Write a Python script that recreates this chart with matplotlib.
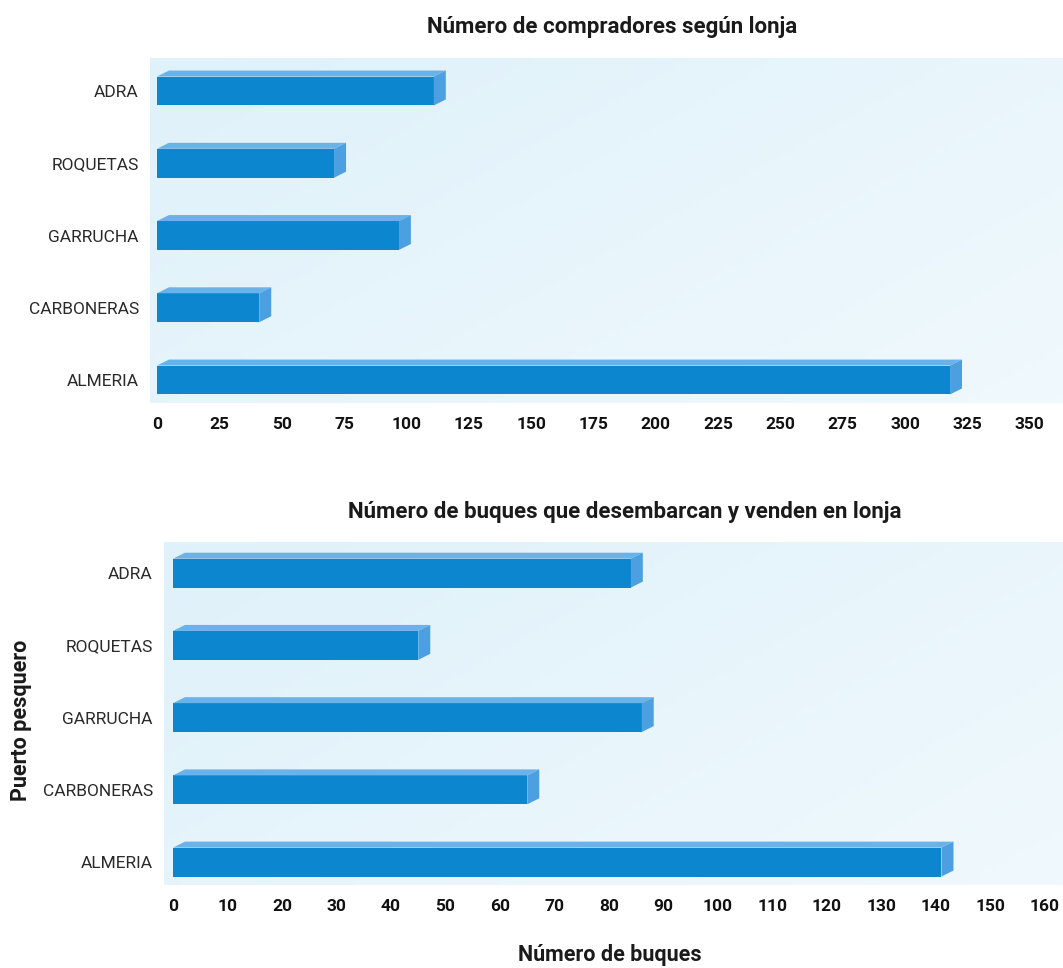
import numpy as np
import matplotlib.pyplot as plt
from matplotlib.patches import Polygon
from matplotlib.colors import LinearSegmentedColormap

lonjas = ['ALMERIA', 'CARBONERAS', 'GARRUCHA', 'ROQUETAS', 'ADRA']
compradores = [318, 41, 97, 71, 111]
buques = [141, 65, 86, 45, 84]
ticks_compradores = list(range(0, 351, 25))
ticks_buques = list(range(0, 161, 10))

plt.rcParams['font.family'] = ['Roboto', 'Liberation Sans', 'DejaVu Sans']

front = '#0b86cf'
top_c = '#6ab3ea'
side_c = '#4c9fe0'

fig = plt.figure(figsize=(10.63, 9.68), dpi=100)


def bar3d(ax, values, xlim, ylim, ticks):
    # fondo azul claro con degradado
    grad = np.linspace(0, 1, 256).reshape(1, -1)
    grad = np.vstack([grad * 0.6 + r * 0.4 for r in np.linspace(0, 1, 64)])
    cmap = LinearSegmentedColormap.from_list('bg', ['#dff1fa', '#f0f9fd'])
    ax.imshow(grad, extent=[0, 1, 0, 1], transform=ax.transAxes, cmap=cmap,
              aspect='auto', zorder=0)
    ax.set_xlim(*xlim)
    ax.set_ylim(*ylim)
    y = np.arange(len(values))
    h = 0.40
    ax.barh(y, values, height=h, color=front, zorder=3)
    bbox = ax.get_window_extent()
    dx = 12 * (xlim[1] - xlim[0]) / bbox.width
    dy = 6 * (ylim[1] - ylim[0]) / bbox.height
    for yi, v in zip(y, values):
        t = yi + h / 2
        b = yi - h / 2
        ax.add_patch(Polygon([(0, t), (v, t), (v + dx, t + dy), (dx, t + dy)],
                             closed=True, color=top_c, zorder=3, lw=0))
        ax.add_patch(Polygon([(v, b), (v, t), (v + dx, t + dy), (v + dx, b + dy)],
                             closed=True, color=side_c, zorder=3, lw=0))
    ax.set_yticks(y)
    ax.set_yticklabels(lonjas, fontsize=12.5, color='#2a2a2a')
    ax.set_xticks(ticks)
    ax.set_xticklabels([str(t) for t in ticks], fontsize=12.5, fontweight='bold',
                       color='#111111')
    ax.tick_params(axis='x', length=0, pad=10)
    ax.tick_params(axis='y', length=0, pad=8)
    for s in ax.spines.values():
        s.set_visible(False)


ax1 = fig.add_axes([0.1411, 0.5837, 0.8589, 0.3564])
bar3d(ax1, compradores, (-2.8, 363.3), (-0.318, 4.457), ticks_compradores)
fig.text(612 / 1063, 1 - 27 / 968, 'Número de compradores según lonja',
         fontsize=16, fontweight='bold', ha='center', va='center', color='#1a1a1a')

ax2 = fig.add_axes([0.1543, 0.0857, 0.8457, 0.3543])
bar3d(ax2, buques, (-1.65, 163.3), (-0.318, 4.43), ticks_buques)
fig.text(625 / 1063, 1 - 512 / 968,
         'Número de buques que desembarcan y venden en lonja',
         fontsize=16, fontweight='bold', ha='center', va='center', color='#1a1a1a')

fig.text(21 / 1063, 1 - 720 / 968, 'Puerto pesquero', fontsize=15.5,
         fontweight='bold', rotation=90, ha='center', va='center', color='#1a1a1a')
fig.text(610 / 1063, 1 - 955 / 968, 'Número de buques', fontsize=15.5,
         fontweight='bold', ha='center', va='center', color='#1a1a1a')

plt.savefig('out.png', dpi=100)
